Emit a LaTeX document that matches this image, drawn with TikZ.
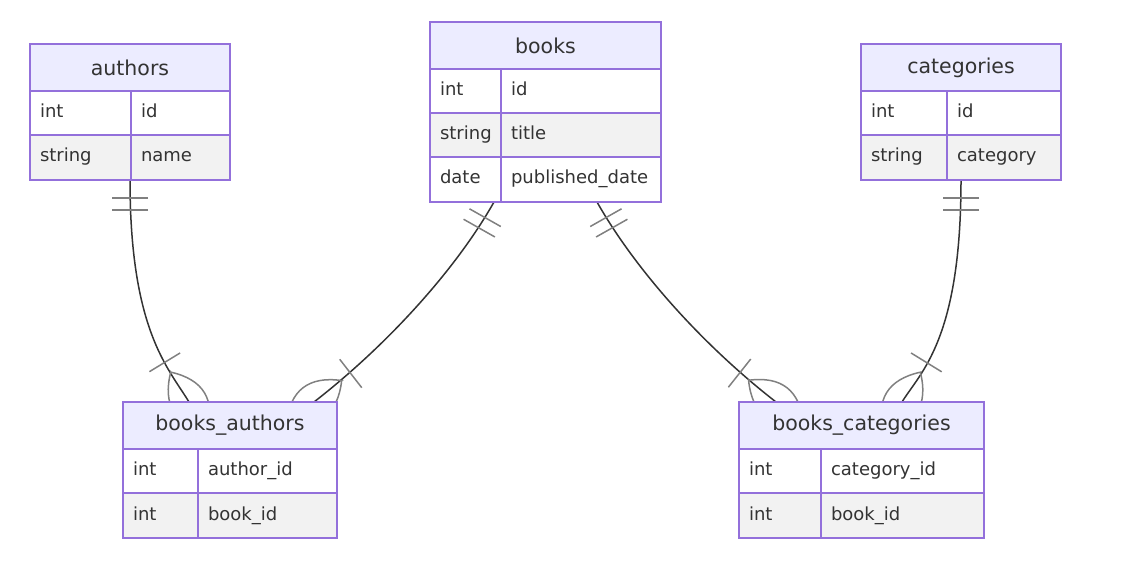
\documentclass[tikz,border=0pt]{standalone}
\usepackage{fontspec}
\setmainfont{DejaVu Sans}
\usepackage{xcolor}
\usetikzlibrary{calc, positioning, backgrounds}

\definecolor{erborder}{HTML}{9370DB}
\definecolor{erhead}{HTML}{ECECFF}
\definecolor{ergray}{HTML}{F2F2F2}
\definecolor{ertext}{HTML}{333333}
\definecolor{ermark}{HTML}{808080}

\tikzset{
  one mark/.pic={\draw[crow line] (18,-18) -- (18,18) (30,-18) -- (30,18);},
  many mark/.pic={
    \draw[crow line] (-35,0) .. controls (-11.7,24) and (11.7,24) .. (35,0)
                             .. controls (11.7,-24) and (-11.7,-24) .. cycle;
    \draw[crow line] (-46.5,-18) -- (-46.5,18);}
}

\begin{document}
\begin{tikzpicture}[x=1pt,y=-1pt,
    title/.style={draw=erborder,fill=erhead,line width=1.8pt,anchor=north west,
                  minimum height=47pt,inner sep=0pt,outer sep=0pt,text=ertext,
                  font=\fontsize{20.5}{24}\selectfont},
    cell/.style={draw=erborder,fill=white,line width=1.8pt,anchor=north west,
                 minimum height=44pt,inner xsep=10pt,inner ysep=0pt,outer sep=0pt,
                 align=left,text height=13pt,text depth=4pt,text=ertext,
                 font=\fontsize{18}{22}\selectfont},
    alt/.style={fill=ergray},
    last/.style={minimum height=45pt},
    link/.style={draw=ertext,line width=1.5pt},
    crow line/.style={draw=ermark,line width=1.5pt}]

  \useasboundingbox (0,0) rectangle (1140,588);

  % authors
  \node[title, minimum width=200pt] (authors) at (30,44) {authors};
  \node[cell, text width=81pt] (authors-1t) at (authors.south west) {int};
  \node[cell, text width=79pt] (authors-1n) at (authors-1t.north east) {id};
  \node[cell, alt, last, text width=81pt] (authors-2t) at (authors-1t.south west) {string};
  \node[cell, alt, last, text width=79pt] (authors-2n) at (authors-2t.north east) {name};

  % books
  \node[title, minimum width=231pt] (books) at (430,22) {books};
  \node[cell, text width=51pt] (books-1t) at (books.south west) {int};
  \node[cell, text width=140pt] (books-1n) at (books-1t.north east) {id};
  \node[cell, alt, text width=51pt] (books-2t) at (books-1t.south west) {string};
  \node[cell, alt, text width=140pt] (books-2n) at (books-2t.north east) {title};
  \node[cell, last, text width=51pt] (books-3t) at (books-2t.south west) {date};
  \node[cell, last, text width=140pt] (books-3n) at (books-3t.north east) {published\_date};

  % categories
  \node[title, minimum width=200pt] (categories) at (861,44) {categories};
  \node[cell, text width=66pt] (categories-1t) at (categories.south west) {int};
  \node[cell, text width=94pt] (categories-1n) at (categories-1t.north east) {id};
  \node[cell, alt, last, text width=66pt] (categories-2t) at (categories-1t.south west) {string};
  \node[cell, alt, last, text width=94pt] (categories-2n) at (categories-2t.north east) {category};

  % books_authors
  \node[title, minimum width=214pt] (ba) at (123,402) {books\_authors};
  \node[cell, text width=55pt] (ba-1t) at (ba.south west) {int};
  \node[cell, text width=119pt] (ba-1n) at (ba-1t.north east) {author\_id};
  \node[cell, alt, last, text width=55pt] (ba-2t) at (ba-1t.south west) {int};
  \node[cell, alt, last, text width=119pt] (ba-2n) at (ba-2t.north east) {book\_id};

  % books_categories
  \node[title, minimum width=245pt] (bc) at (739,402) {books\_categories};
  \node[cell, text width=62pt] (bc-1t) at (bc.south west) {int};
  \node[cell, text width=143pt] (bc-1n) at (bc-1t.north east) {category\_id};
  \node[cell, alt, last, text width=62pt] (bc-2t) at (bc-1t.south west) {int};
  \node[cell, alt, last, text width=143pt] (bc-2n) at (bc-2t.north east) {book\_id};

  \begin{scope}[on background layer]
    \coordinate (a-out) at (authors.south |- authors-2n.south);
    \coordinate (b-out1) at ([xshift=-7pt]books-3t.south east);
    \coordinate (b-out2) at ([xshift=96pt]books-3t.south east);
    \coordinate (c-out) at (categories.south |- categories-2n.south);
    \coordinate (ba-in1) at ([xshift=66pt]ba.north west);
    \coordinate (ba-in2) at ([xshift=-23pt]ba.north east);
    \coordinate (bc-in1) at ([xshift=37pt]bc.north west);
    \coordinate (bc-in2) at ([xshift=-82pt]bc.north east);

    \draw[link] (a-out) .. controls +(0,150) and +(-20.8,-34.2) .. (ba-in1);
    \draw[link] (b-out1) .. controls +(-39.4,69.6) and +(71.1,-55.2) .. (ba-in2);
    \draw[link] (b-out2) .. controls +(39.4,69.6) and +(-71.1,-55.2) .. (bc-in1);
    \draw[link] (c-out) .. controls +(0,160) and +(18.4,-29.9) .. (bc-in2);

    \pic[rotate=-90] at (a-out) {one mark};
    \pic[rotate=-119.5] at (b-out1) {one mark};
    \pic[rotate=-60.5] at (b-out2) {one mark};
    \pic[rotate=-90] at (c-out) {one mark};

    \pic[rotate=-58.6] at (ba-in1) {many mark};
    \pic[rotate=-142.2] at (ba-in2) {many mark};
    \pic[rotate=-38.4] at (bc-in1) {many mark};
    \pic[rotate=-121.6] at (bc-in2) {many mark};
  \end{scope}
\end{tikzpicture}
\end{document}
